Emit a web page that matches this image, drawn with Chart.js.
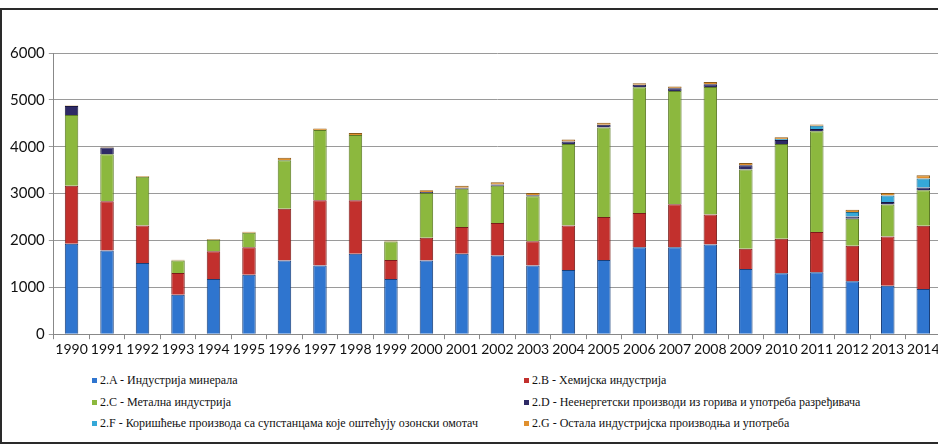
<!DOCTYPE html>
<html>
<head>
<meta charset="utf-8">
<script src="https://cdn.jsdelivr.net/npm/chart.js@4.4.1/dist/chart.umd.min.js"></script>
<style>
    body{margin:0;background:#fff;overflow:hidden;width:938px;height:445px;position:relative}
    #frame{position:absolute;left:0;top:8px;width:960px;height:432px;border-top:2px solid #2a2a2a;border-left:2px solid #2a2a2a;border-bottom:2px solid #2a2a2a}
    #wrap{position:absolute;left:0;top:0;width:948px;height:360px}
    #legend{position:absolute;left:92px;top:373px;width:840px;display:grid;grid-template-columns:432px 400px;row-gap:6.5px;
        font-family:"Liberation Serif","DejaVu Serif",serif;font-size:12px;color:#111}
    #legend div{height:15px;line-height:15px;white-space:nowrap}
    #legend span{display:inline-block;width:5px;height:5px;margin-right:3px;vertical-align:1px}
</style>
</head>
<body>
<div id="frame"></div>
<div id="wrap"><canvas id="myChart"></canvas></div>
<div id="legend"></div>
<script>
// data
let years = ['1990','1991','1992','1993','1994','1995','1996','1997','1998','1999','2000','2001','2002',
    '2003','2004','2005','2006','2007','2008','2009','2010','2011','2012','2013','2014']
let minerals  = [1930,1785,1521,843,1178,1271,1571,1464,1714,1178,1571,1714,1678,1464,1371,1585,1857,1857,1914,1392,1300,1321,1128,1035,964]
let chemical  = [1235,1050,800,464,593,586,1107,1392,1142,407,486,571,693,521,950,914,728,914,642,429,735,857,757,1050,1349]
let metal     = [1514,1006,1036,264,243,307,1035,1499,1392,393,956,821,799,957,1735,1914,2685,2420,2717,1692,2021,2150,578,685,757]
let nonEnergy = [190,145,5,0,0,0,5,0,0,0,20,20,25,25,55,55,50,55,60,90,90,50,50,50,60]
let ozone     = [0,0,0,0,0,0,0,0,0,0,0,0,0,0,0,0,0,0,0,0,20,70,95,140,190]
let other     = [10,14,15,20,15,20,45,35,45,20,40,40,45,45,45,45,35,40,50,50,35,25,50,55,70]
let yTicks = [0,1000,2000,3000,4000,5000,6000]

let labels = [
    '2.A - Индустрија минерала',
    '2.B - Хемијска индустрија',
    '2.C - Метална индустрија',
    '2.D - Неенергетски производи из горива и употреба разређивача',
    '2.F - Коришћење производа са супстанцама које оштећују озонски омотач',
    '2.G - Остала индустријска производња и употреба'
]
let series = [minerals, chemical, metal, nonEnergy, ozone, other]
let fills = ['#2f75cf','#c2302d','#8cb83e','#2e2a66','#35a8d8','#e0902e']
let edges = ['#1a3f78','#7a1c1a','#5c7a26','#1a1840','#1f6a8a','#8a5a1a']

let datasets = series.map((s,i)=>({
    label: labels[i],
    data: s,
    backgroundColor: fills[i],
    hoverBackgroundColor: fills[i],
    borderColor: edges[i],
    borderWidth: 1,
    categoryPercentage: 1,
    barPercentage: 0.38
}))

const config = {
    type: 'bar',
    data: { labels: years, datasets },
    options: {
        responsive: true,
        maintainAspectRatio: false,
        animation: false,
        events: [],
        layout: { padding: { top: 53, right: 7, left: 6, bottom: 0 } },
        plugins: { legend: { display: false }, tooltip: { enabled: false } },
        scales: {
            x: {
                stacked: true,
                grid: { display: true, drawOnChartArea: false, offset: true, tickLength: 5, color: '#888' },
                border: { color: '#888' },
                ticks: { color: '#111', font: { family: 'Lato', size: 14 }, padding: 2, maxRotation: 0, autoSkip: false }
            },
            y: {
                stacked: true,
                min: 0,
                max: 6000,
                afterBuildTicks: (axis)=>{ axis.ticks = yTicks.map(v=>({value:v})) },
                grid: { color: '#9a9a9a', tickLength: 5 },
                border: { color: '#888' },
                ticks: { color: '#111', font: { family: 'Lato', size: 15 }, padding: 4, callback: (v)=>String(v) }
            }
        }
    }
}

const myChart = new Chart(document.getElementById('myChart'), config)

// html legend, two columns
let legend = document.getElementById('legend')
for (let i = 0; i < labels.length; i++){
    let d = document.createElement('div')
    d.innerHTML = `<span style="background:${fills[i]}"></span>${labels[i]}`
    legend.appendChild(d)
}
</script>
</body>
</html>
